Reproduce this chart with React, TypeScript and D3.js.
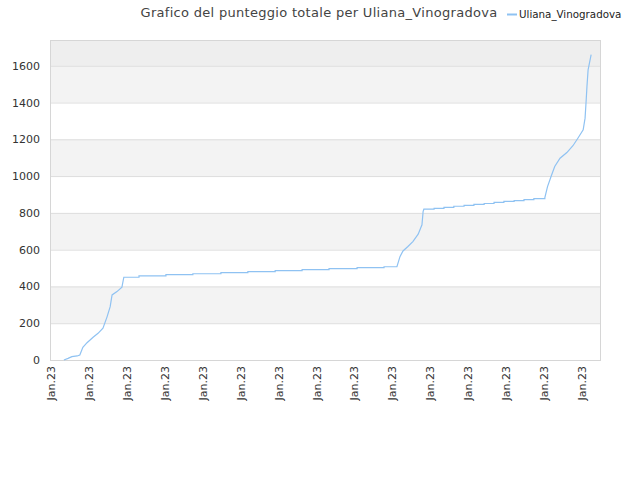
import React from 'react';
import * as d3 from 'd3';

// position along the x axis, in tick units (one tick = one "Jan.23" label)
const days = [
  0.34, 0.45, 0.55, 0.69, 0.76, 0.84, 0.95, 1.11, 1.24, 1.37, 1.48, 1.56, 1.61, 1.74, 1.87, 1.92,
  2.32, 2.32, 3.03, 3.03, 3.74, 3.74, 4.48, 4.48, 5.19, 5.19, 5.91, 5.91, 6.62, 6.62,
  7.33, 7.33, 8.07, 8.07, 8.78, 8.78, 9.12,
  9.2, 9.28, 9.41, 9.54, 9.68, 9.78, 9.81, 9.83,
  10.1, 10.1, 10.36, 10.36, 10.62, 10.62, 10.89, 10.89, 11.15, 11.15, 11.42, 11.42,
  11.68, 11.68, 11.94, 11.94, 12.21, 12.21, 12.47, 12.47, 12.73, 12.73, 13.02, 13.02,
  13.09, 13.2, 13.28, 13.42, 13.6, 13.76, 13.89, 14.03, 14.08, 14.11, 14.13, 14.16, 14.24,
];

// total score
const scores = [
  0, 9, 18, 22, 27, 69, 94, 124, 145, 173, 236, 290, 354, 372, 396, 450,
  450, 457, 457, 464, 464, 469, 469, 475, 475, 480, 480, 486, 486, 491,
  491, 497, 497, 502, 502, 507, 507,
  562, 593, 617, 644, 684, 735, 807, 820,
  820, 825, 825, 830, 830, 836, 836, 841, 841, 846, 846, 851,
  851, 857, 857, 862, 862, 867, 867, 872, 872, 878, 878, 883,
  943, 1007, 1052, 1097, 1128, 1165, 1206, 1252, 1315, 1415, 1488, 1578, 1660,
];

const xTickLabels = d3.range(15).map(() => 'Jan.23');
const yTicks = [0, 200, 400, 600, 800, 1000, 1200, 1400, 1600];

const seriesName = 'Uliana_Vinogradova';
const title = 'Grafico del punteggio totale per Uliana_Vinogradova';

const W = 640;
const H = 480;
const left = 50;
const right = 601;
const top = 40;
const bottom = 360;
const font = 'DejaVu Sans, sans-serif';
const lineColor = '#8fc2f2';

export default function App() {
  const x = d3.scaleLinear().domain([0, 14.5]).range([left + 1, right]);
  const y = d3.scaleLinear().domain([0, 1740]).range([bottom, top]);

  const pts: [number, number][] = days.map((d, i) => [d, scores[i]]);
  const line = d3
    .line<[number, number]>()
    .x((d) => x(d[0]))
    .y((d) => y(d[1]));

  // alternating bands between grid lines, darker band above the last tick
  const bands = yTicks.map((t, i) => {
    const hi = i < yTicks.length - 1 ? yTicks[i + 1] : 1740;
    let fill = i % 2 === 0 ? '#ffffff' : '#f3f3f3';
    if (i === yTicks.length - 1) fill = '#eeeeee';
    return { lo: t, hi, fill };
  });

  return (
    <svg
      width={W}
      height={H}
      style={{ position: 'absolute', left: 0, top: 0, background: '#fff' }}
      fontFamily={font}
    >
      {bands.map((b) => (
        <rect
          key={b.lo}
          x={left}
          y={y(b.hi)}
          width={right - left}
          height={y(b.lo) - y(b.hi)}
          fill={b.fill}
        />
      ))}
      {yTicks.slice(1).map((t) => (
        <line key={t} x1={left} x2={right} y1={y(t) + 0.5} y2={y(t) + 0.5} stroke="#dddddd" />
      ))}
      <rect
        x={left + 0.5}
        y={top + 0.5}
        width={right - left - 1}
        height={bottom - top}
        fill="none"
        stroke="#d6d6d6"
      />
      <path d={line(pts) || ''} fill="none" stroke={lineColor} strokeWidth={1.2} />

      {yTicks.map((t) => (
        <text key={t} x={40} y={y(t) + 4} textAnchor="end" fontSize={11} fill="#333">
          {t}
        </text>
      ))}
      {xTickLabels.map((lab, i) => (
        <text
          key={i}
          transform={`translate(${x(i) + 4},${bottom + 6}) rotate(-90)`}
          textAnchor="end"
          fontSize={11}
          fill="#333"
        >
          {lab}
        </text>
      ))}

      <text x={319} y={17} textAnchor="middle" fontSize={13} fill="#444" letterSpacing={0.3}>
        {title}
      </text>
      <line x1={507} x2={517} y1={14.5} y2={14.5} stroke={lineColor} strokeWidth={2} />
      <text x={519} y={18} fontSize={10.3} fill="#222">
        {seriesName}
      </text>
    </svg>
  );
}
